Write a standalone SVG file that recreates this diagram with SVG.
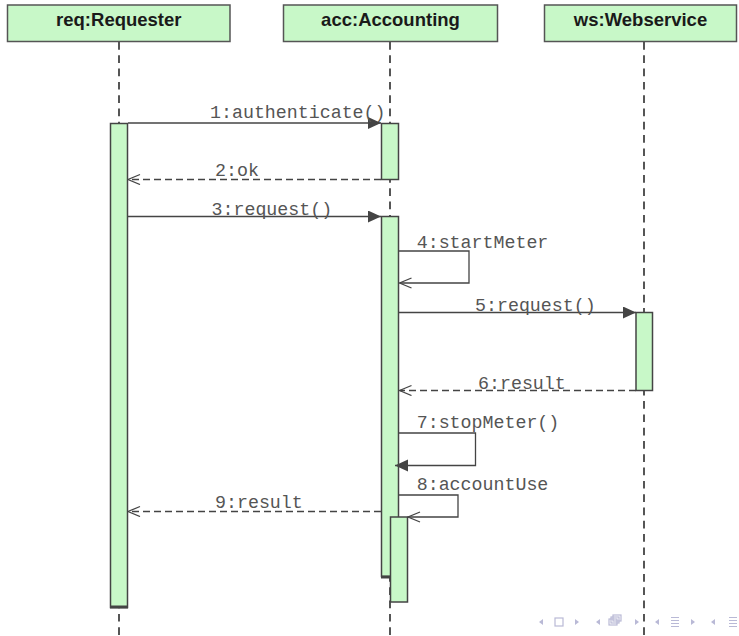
<svg xmlns="http://www.w3.org/2000/svg" width="739" height="636" viewBox="0 0 739 636">
<style>
.hdr{fill:#c8f8c8;stroke:#555;stroke-width:1.5}
.hdrt{font-family:"Liberation Sans",Arial,sans-serif;font-weight:bold;font-size:18.5px;fill:#1a1a1a;text-anchor:middle}
.life{stroke:#444;stroke-width:1.8;stroke-dasharray:7.7 5.6;fill:none}
.act{fill:#c8f8c8;stroke:#444;stroke-width:1.5}
.shadow{stroke:#444;stroke-width:3}
.msg{stroke:#444;stroke-width:1.3;fill:none}
.ret{stroke:#444;stroke-width:1.3;fill:none;stroke-dasharray:7 4}
.lbl{font-family:"Liberation Mono","Courier New",monospace;font-size:18.3px;fill:#555}
.nav{fill:#b9b9d6}
.navs{fill:none;stroke:#b9b9d6;stroke-width:1.2}
</style>
<defs>
<marker id="filled" markerUnits="userSpaceOnUse" markerWidth="14" markerHeight="13" refX="13" refY="6" orient="auto">
<path d="M0,0 L13,6 L0,12 z" fill="#444" stroke="none"/>
</marker>
<marker id="open" markerUnits="userSpaceOnUse" markerWidth="14" markerHeight="12" refX="12.5" refY="5.5" orient="auto">
<path d="M0.5,0.5 L12.5,5.5 L0.5,10.5" fill="none" stroke="#444" stroke-width="1.3" stroke-dasharray="none"/>
</marker>
</defs>
<g id="lifelines">
<line class="life" x1="119" y1="42" x2="119" y2="636"/>
<line class="life" x1="390" y1="42" x2="390" y2="636"/>
<line class="life" x1="644" y1="42" x2="644" y2="636"/>
</g>
<g id="req">
<rect class="hdr" x="7.5" y="5" width="222.5" height="36.5"/>
<text class="hdrt" x="118.8" y="26">req:Requester</text>
<rect class="act" x="110.5" y="123.5" width="17" height="484"/>
<line class="shadow" x1="110" y1="607" x2="128" y2="607"/>
</g>
<g id="acc">
<rect class="hdr" x="283.5" y="5" width="214" height="36.5"/>
<text class="hdrt" x="390.5" y="26">acc:Accounting</text>
<rect class="act" x="381.5" y="123.5" width="17" height="56"/>
<rect class="act" x="381.5" y="216.5" width="17" height="360"/>
<line class="shadow" x1="381" y1="577" x2="391" y2="577"/>
<rect class="act" x="390.5" y="517" width="17" height="85"/>
</g>
<g id="ws">
<rect class="hdr" x="544.5" y="5" width="192" height="36.5"/>
<text class="hdrt" x="640.5" y="26">ws:Webservice</text>
<rect class="act" x="636" y="312.5" width="16.5" height="78"/>
</g>
<g id="connectors">
<line class="msg" x1="128" y1="123" x2="381" y2="123" marker-end="url(#filled)"/>
<line class="ret" x1="381" y1="179.5" x2="128" y2="179.5" marker-end="url(#open)"/>
<line class="msg" x1="128" y1="216.5" x2="381" y2="216.5" marker-end="url(#filled)"/>
<path class="msg" d="M399,251 H469 V283 H399.5" marker-end="url(#open)"/>
<line class="msg" x1="399" y1="312.5" x2="636" y2="312.5" marker-end="url(#filled)"/>
<line class="ret" x1="636" y1="390.5" x2="399.5" y2="390.5" marker-end="url(#open)"/>
<path class="msg" d="M399,433 H475.5 V465.5 H395" marker-end="url(#filled)"/>
<path class="msg" d="M399,495 H458 V517 H408" marker-end="url(#open)"/>
<line class="ret" x1="381" y1="511.5" x2="128" y2="511.5" marker-end="url(#open)"/>
</g>
<g id="labels">
<text class="lbl" x="210" y="118">1:authenticate()</text>
<text class="lbl" x="215" y="176">2:ok</text>
<text class="lbl" x="211.5" y="215">3:request()</text>
<text class="lbl" x="416.7" y="248">4:startMeter</text>
<text class="lbl" x="475" y="311">5:request()</text>
<text class="lbl" x="478" y="389">6:result</text>
<text class="lbl" x="416.7" y="427.5">7:stopMeter()</text>
<text class="lbl" x="416.7" y="490">8:accountUse</text>
<text class="lbl" x="215" y="508">9:result</text>
</g>
<g id="nav">
<path class="nav" d="M543,619 L539,622 L543,625 z"/>
<rect class="navs" x="555" y="618" width="8" height="8"/>
<path class="nav" d="M575,619 L579,622 L575,625 z"/>
<path class="nav" d="M600,619 L596,622 L600,625 z"/>
<rect class="navs" x="613" y="615" width="8" height="6"/>
<rect class="navs" x="611" y="617" width="8" height="6" fill="#fff"/>
<rect class="navs" x="609" y="619" width="8" height="6" fill="#fff"/>
<path class="nav" d="M635,619 L639,622 L635,625 z"/>
<path class="nav" d="M659,619 L655,622 L659,625 z"/>
<path class="navs" d="M671,617.5 H679 M671,620.5 H679 M671,623.5 H679 M671,626.5 H679"/>
<path class="nav" d="M691,619 L695,622 L691,625 z"/>
<path class="nav" d="M715,619 L711,622 L715,625 z"/>
<path class="navs" d="M729,617.5 H737 M729,620.5 H737 M729,623.5 H737 M729,626.5 H737"/>
</g>
</svg>
